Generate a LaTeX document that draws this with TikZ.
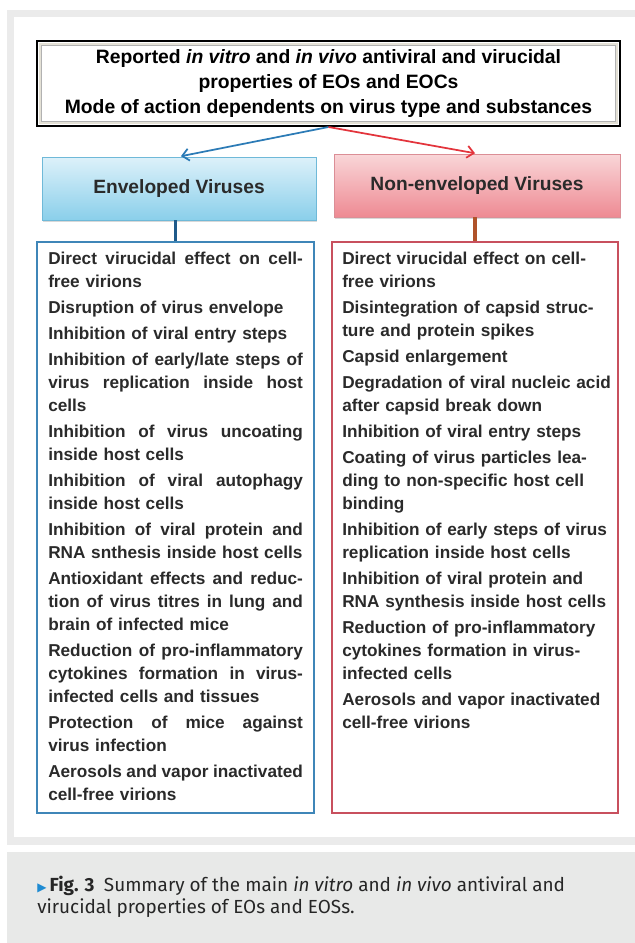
\documentclass[tikz,border=0pt]{standalone}
\usepackage{fontspec}
\setmainfont{Liberation Sans}
\newfontfamily\capfont{Fira Sans}
\newfontfamily\symfont{DejaVu Sans}
\usetikzlibrary{arrows,arrows.meta,shadows}

\definecolor{panelgray}{HTML}{EBEBEB}
\definecolor{capgray}{HTML}{E8E9E8}
\definecolor{framebeige}{HTML}{E4E1D6}
\definecolor{envtop}{HTML}{DDF1FA}
\definecolor{envbot}{HTML}{8ACFEA}
\definecolor{envline}{HTML}{6FB9D8}
\definecolor{nontop}{HTML}{F9D6D8}
\definecolor{nonbot}{HTML}{EE8A93}
\definecolor{nonline}{HTML}{DB8E96}
\definecolor{envarrow}{HTML}{2C7BB6}
\definecolor{nonarrow}{HTML}{E3343C}
\definecolor{envstub}{HTML}{1F5A8A}
\definecolor{nonstub}{HTML}{B0532A}
\definecolor{envframe}{HTML}{3F86B8}
\definecolor{nonframe}{HTML}{C8505E}
\definecolor{txt}{HTML}{2A2A2A}
\definecolor{capblue}{HTML}{1E8BD2}

\newlength{\colw}
\setlength{\colw}{191pt}
\newcommand{\jl}[1]{\makebox[\colw][s]{\spaceskip=0pt\xspaceskip=0pt\relax #1}}

\tikzset{
  headbox/.style={draw=black, line width=1.5pt, fill=white, minimum width=437.25pt,
    minimum height=63.75pt, align=center, text=black,
    font=\fontsize{14.5pt}{18.75pt}\selectfont\bfseries},
  virusbox/.style={draw, line width=0.6pt, minimum height=47.25pt, text=txt,
    font=\fontsize{14.4pt}{17pt}\selectfont\bfseries,
    drop shadow={shadow xshift=0.6pt, shadow yshift=-1.5pt, opacity=0.3}},
  listbox/.style={draw, line width=1.1pt, fill=white, minimum height=428.25pt},
  listtext/.style={anchor=base west, inner sep=0pt, align=left, text width=205pt,
    text=txt, font=\fontsize{12.9pt}{17.25pt}\selectfont\bfseries},
  splitarrow/.style={-{Straight Barb[length=5pt,width=9pt]}, line width=1.3pt, shorten >=1.5pt},
  stub/.style={line width=2.4pt}
}

\begin{document}
\begin{tikzpicture}[x=0.75pt, y=-0.75pt]
\useasboundingbox (0,0) rectangle (635,943);
% figure panel and caption panel
\fill[panelgray] (7,10) rectangle (635,845);
\fill[white] (14,17) rectangle (635,837);
\fill[capgray] (7,852) rectangle (635,943);

% top box
\node[headbox] (head) at (328.5,83.5) {Reported \textit{in vitro} and \textit{in vivo} antiviral and virucidal\\
  properties of EOs and EOCs\\ Mode of action dependents on virus type and substances};
\draw[framebeige, line width=1.8pt] (39.8,43.8) rectangle (617.2,123.2);
\draw[black!30, line width=0.4pt] (41.3,45.3) rectangle (615.7,121.7);

% the two virus groups
\node[virusbox, draw=envline, top color=envtop, bottom color=envbot, minimum width=205.5pt] (env) at (179,188.5) {Enveloped Viruses};
\node[virusbox, draw=nonline, top color=nontop, bottom color=nonbot, minimum width=214.5pt] (nonenv) at (477,185.5) {Non-enveloped Viruses};
\draw[splitarrow, envarrow] (head.south) -- (env.north);
\draw[splitarrow, nonarrow] (head.south) -- (nonenv.north);

% lists of effects
\node[listbox, draw=envframe, minimum width=207.75pt] (envlist) at (175.5,527.5) {};
\node[listbox, draw=nonframe, minimum width=214.5pt] (nonlist) at (475,527.5) {};
\draw[stub, envstub] (envlist.north |- env.south) -- (envlist.north);
\draw[stub, nonstub] (nonlist.north |- nonenv.south) -- (nonlist.north);

\node[listtext] (envtext) at (48,264) {%
  \jl{Direct virucidal effect on cell-}\\ free virions\\[2.25pt]
  Disruption of virus envelope\\[2.25pt]
  Inhibition of viral entry steps\\[2.25pt]
  \jl{Inhibition of early/late steps of}\\ \jl{virus replication inside host}\\ cells\\[2.25pt]
  \jl{Inhibition of virus uncoating}\\ inside host cells\\[2.25pt]
  \jl{Inhibition of viral autophagy}\\ inside host cells\\[2.25pt]
  \jl{Inhibition of viral protein and}\\ RNA snthesis inside host cells\\[2.25pt]
  \jl{Antioxidant effects and reduc-}\\ \jl{tion of virus titres in lung and}\\ brain of infected mice\\[2.25pt]
  \jl{Reduction of pro-inflammatory}\\ \jl{cytokines formation in virus-}\\ infected cells and tissues\\[2.25pt]
  \jl{Protection of mice against}\\ virus infection\\[2.25pt]
  \jl{Aerosols and vapor inactivated}\\ cell-free virions};

\node[listtext] (nontext) at (342,264) {%
  Direct virucidal effect on cell-\\ free virions\\[2.25pt]
  Disintegration of capsid struc-\\ ture and protein spikes\\[2.25pt]
  Capsid enlargement\\[2.25pt]
  Degradation of viral nucleic acid\\ after capsid break down\\[2.25pt]
  Inhibition of viral entry steps\\[2.25pt]
  Coating of virus particles lea-\\ ding to non-specific host cell\\ binding\\[2.25pt]
  Inhibition of early steps of virus\\ replication inside host cells\\[2.25pt]
  Inhibition of viral protein and\\ RNA synthesis inside host cells\\[2.25pt]
  Reduction of pro-inflammatory\\ cytokines formation in virus-\\ infected cells\\[2.25pt]
  Aerosols and vapor inactivated\\ cell-free virions};

% caption
\node[anchor=base west, inner sep=0pt, align=left, text=black!85,
  font=\capfont\fontsize{14.2pt}{16.5pt}\selectfont] (caption) at (37,913)
  {{\symfont\fontsize{9pt}{9pt}\selectfont\color{capblue}▶}\,\textbf{Fig. 3}\enspace Summary of the main \textit{in vitro} and \textit{in vivo} antiviral and\\
  virucidal properties of EOs and EOSs.};
\end{tikzpicture}
\end{document}
